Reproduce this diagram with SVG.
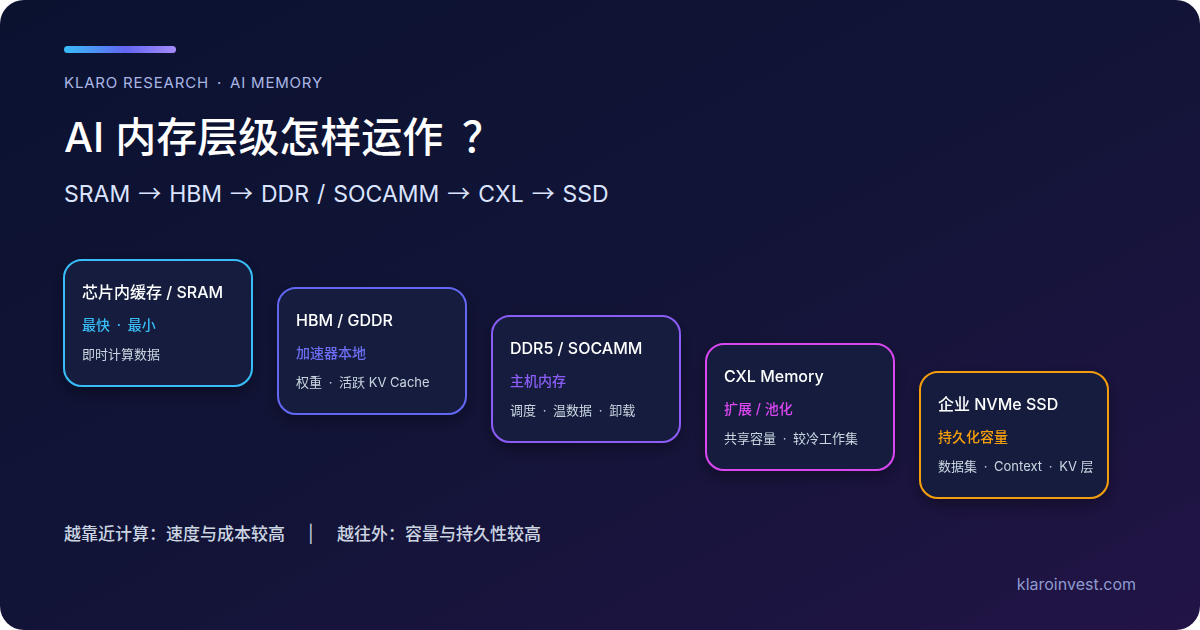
<svg xmlns="http://www.w3.org/2000/svg" width="1200" height="630" viewBox="0 0 1200 630">
<defs>
<linearGradient id="bg" x1="0" y1="0" x2="1" y2="1">
<stop offset="0" stop-color="#0b1230"/>
<stop offset="0.5" stop-color="#121437"/>
<stop offset="1" stop-color="#221446"/>
</linearGradient>
<linearGradient id="bar" x1="0" y1="0" x2="1" y2="0">
<stop offset="0" stop-color="#38bdf8"/>
<stop offset="0.55" stop-color="#6366f1"/>
<stop offset="1" stop-color="#a78bfa"/>
</linearGradient>
<filter id="sh" x="-20%" y="-20%" width="140%" height="150%">
<feDropShadow dx="0" dy="6" stdDeviation="8" flood-color="#000" flood-opacity="0.35"/>
</filter>
</defs>
<style>
text{font-family:Inter,"Noto Sans CJK SC","Noto Sans",sans-serif}
.cjk{font-family:"Noto Sans CJK SC",sans-serif}
.card{fill:#161e3e;stroke-width:2}
.t{fill:#ffffff;font-size:16px;font-weight:500}
.s{font-size:14px;font-weight:500}
.d{fill:#cbd5e1;font-size:13px}
</style>
<rect width="1200" height="630" fill="#ffffff"/>
<rect width="1200" height="630" rx="24" fill="url(#bg)"/>
<rect x="64" y="46" width="112" height="7" rx="3.5" fill="url(#bar)"/>
<text x="64" y="88" font-size="15" letter-spacing="0.8" fill="#a9b6e6">KLARO RESEARCH <tspan dx="3">·</tspan><tspan dx="3"> AI MEMORY</tspan></text>
<text x="64" y="152" font-size="41" font-weight="500" fill="#ffffff">AI 内存层级怎样运作<tspan class="cjk" x="462">？</tspan></text>
<text x="64" y="202" font-size="23" word-spacing="1.5" fill="#dbe4ff">SRAM <tspan class="cjk">→</tspan> HBM <tspan class="cjk">→</tspan> DDR / SOCAMM <tspan class="cjk">→</tspan> CXL <tspan class="cjk">→</tspan> SSD</text>
<g id="connectors"/>
<g id="n1" filter="url(#sh)">
<rect class="card" x="64" y="260" width="188" height="126" rx="18" stroke="#38bdf8"/>
<text class="t" x="82" y="298">芯片内缓存 / SRAM</text>
<text class="s" x="82" y="330" fill="#38bdf8">最快 <tspan dx="3">·</tspan><tspan dx="3"> 最小</tspan></text>
<text class="d" x="82" y="359">即时计算数据</text>
</g>
<g id="n2" filter="url(#sh)">
<rect class="card" x="278" y="288" width="188" height="126" rx="18" stroke="#6366f1"/>
<text class="t" x="296" y="326">HBM / GDDR</text>
<text class="s" x="296" y="358" fill="#6d6ef5">加速器本地</text>
<text class="d" x="296" y="387">权重 <tspan dx="3">·</tspan><tspan dx="3"> 活跃 KV Cache</tspan></text>
</g>
<g id="n3" filter="url(#sh)">
<rect class="card" x="492" y="316" width="188" height="126" rx="18" stroke="#8b5cf6"/>
<text class="t" x="510" y="354">DDR5 / SOCAMM</text>
<text class="s" x="510" y="386" fill="#8b5cf6">主机内存</text>
<text class="d" x="510" y="415">调度 <tspan dx="3">·</tspan><tspan dx="3"> 温数据 </tspan><tspan dx="3">·</tspan><tspan dx="3"> 卸载</tspan></text>
</g>
<g id="n4" filter="url(#sh)">
<rect class="card" x="706" y="344" width="188" height="126" rx="18" stroke="#d946ef"/>
<text class="t" x="724" y="382">CXL Memory</text>
<text class="s" x="724" y="414" fill="#d946ef">扩展 / 池化</text>
<text class="d" x="724" y="443">共享容量 <tspan dx="3">·</tspan><tspan dx="3"> 较冷工作集</tspan></text>
</g>
<g id="n5" filter="url(#sh)">
<rect class="card" x="920" y="372" width="188" height="126" rx="18" stroke="#f59e0b"/>
<text class="t" x="938" y="410">企业 NVMe SSD</text>
<text class="s" x="938" y="442" fill="#f59e0b">持久化容量</text>
<text class="d" x="938" y="471">数据集 <tspan dx="3">·</tspan><tspan dx="3"> Context </tspan><tspan dx="3">·</tspan><tspan dx="3"> KV 层</tspan></text>
</g>
<text x="64" y="540" font-size="17" font-weight="500" fill="#cbd5e1">越靠近计算：速度与成本较高</text>
<text x="308" y="540" font-size="17" fill="#cbd5e1">|</text>
<text x="337" y="540" font-size="17" font-weight="500" fill="#cbd5e1">越往外：容量与持久性较高</text>
<text x="1136" y="590" font-size="16" fill="#8e9bd0" text-anchor="end">klaroinvest.com</text>
</svg>
